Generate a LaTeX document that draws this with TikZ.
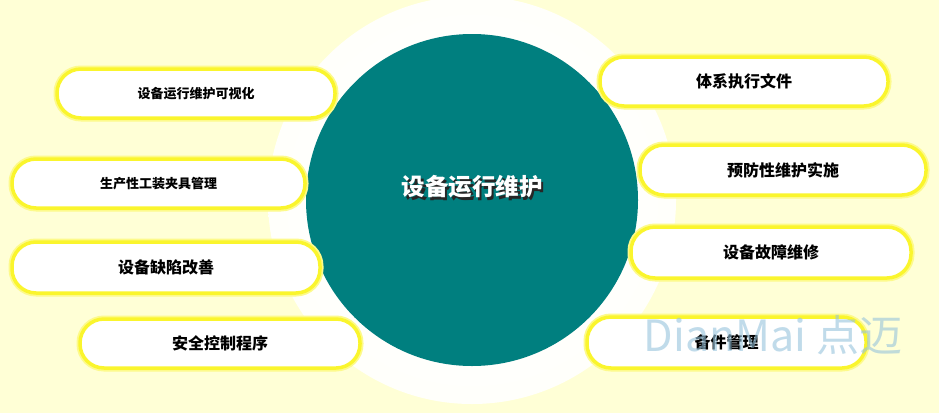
\documentclass[tikz,border=0pt]{standalone}
\usepackage{fontspec}
\newfontfamily\cjk{Noto Sans CJK SC}
\definecolor{bgc}{RGB}{255,255,214}
\definecolor{tealc}{RGB}{0,127,127}
\definecolor{pillY}{RGB}{250,245,45}
\definecolor{wmark}{RGB}{150,195,220}
\pgfdeclareradialshading{halo}{\pgfpoint{0bp}{0bp}}{color(0bp)=(white); color(40bp)=(white!85!bgc); color(45bp)=(white!50!bgc); color(50bp)=(bgc)}
\tikzset{
  pill/.style={draw=pillY, line width=3.5pt, fill=white, rounded corners=24pt,
    inner sep=0pt, font=\cjk\bfseries\fontsize{16}{16}\selectfont,
    preaction={draw=pillY!45!bgc, line width=7pt}},
  smalltxt/.style={font=\cjk\bfseries\fontsize{13}{13}\selectfont},
  hub/.style={circle, fill=tealc, inner sep=0pt, minimum size=332pt},
  hubtxt/.style={font=\cjk\bfseries\fontsize{23.5}{24}\selectfont, inner sep=0pt}
}
\begin{document}
\begin{tikzpicture}[x=1pt,y=-1pt]
\useasboundingbox (0,0) rectangle (939,413);
\fill[bgc] (0,0) rectangle (939,413);
\shade[shading=halo] (472,200) circle (204);
\node[hub] (c) at (472,200) {};
\node[hubtxt, text=black!85] (cts) at (474.5,189.5) {设备运行维护};
\node[hubtxt, text=white] (ct) at (472,187) {设备运行维护};
% left pills
\node[pill, smalltxt, minimum width=278pt, minimum height=49pt] (p1) at (196,93.5) {设备运行维护可视化};
\node[pill, smalltxt, minimum width=293pt, minimum height=49pt] (p2) at (158.5,183.5) {生产性工装夹具管理};
\node[pill, minimum width=308pt, minimum height=51pt] (p3) at (166,267.5) {设备缺陷改善};
\node[pill, minimum width=280pt, minimum height=49pt] (p4) at (220,343.5) {安全控制程序};
% right pills
\node[pill, minimum width=288pt, minimum height=49pt] (p5) at (744,81.5) {体系执行文件};
\node[pill, minimum width=286pt, minimum height=50pt] (p6) at (783,170) {预防性维护实施};
\node[pill, minimum width=280pt, minimum height=51pt] (p7) at (771,252.5) {设备故障维修};
\node[pill, minimum width=279pt, minimum height=51pt] (p8) at (726.5,342.5) {备件管理};
% watermark
\node[text=wmark, opacity=0.6, font=\cjk\fontsize{43}{43}\selectfont, inner sep=0pt] (wm) at (773,335) {DianMai 点迈};
\end{tikzpicture}
\end{document}
